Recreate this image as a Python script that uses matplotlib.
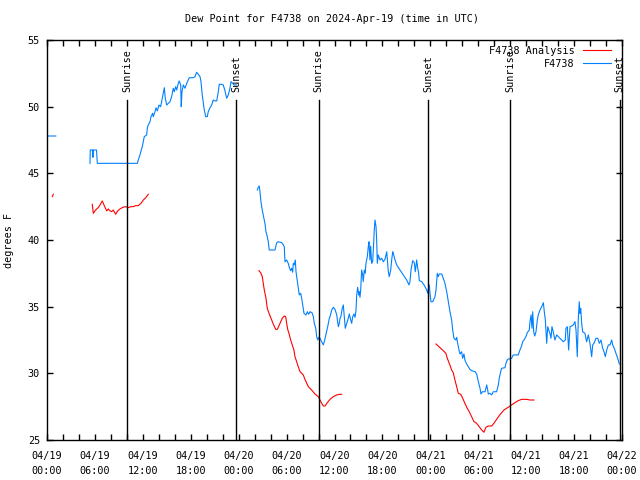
import matplotlib
matplotlib.use("Agg")
import matplotlib.pyplot as plt
import numpy as np

# hours after 2024-04-19 00:00 UTC
obs_hours_1 = [0.1, 1.1]
obs_vals_1 = [47.8, 47.8]

obs_hours_2 = [
    5.38, 5.42, 5.70, 5.75, 5.80, 6.20, 6.30, 11.31, 11.43, 11.64, 11.77, 11.93,
    12.06, 12.18, 12.48, 12.56, 12.68, 12.90, 13.02, 13.23, 13.31, 13.52, 13.65,
    13.81, 14.02, 14.23, 14.44, 14.56, 14.69, 14.81, 14.99, 15.19, 15.40, 15.61,
    15.81, 15.94, 16.11, 16.24, 16.44, 16.56, 16.74, 16.81, 16.90, 17.07, 17.28,
    17.49, 17.69, 17.82, 18.32, 18.53, 18.74, 18.94, 19.16, 19.28, 19.44, 19.66,
    19.87, 20.07, 20.19, 20.41, 20.62, 20.82, 21.03, 21.25, 21.45, 21.57, 21.87,
    22.07, 22.29, 22.50, 22.70, 22.91, 23.04, 23.25, 23.41, 23.75,
]
obs_vals_2 = [
    45.75, 46.75, 46.75, 46.20, 46.75, 46.75, 45.75, 45.75, 46.00, 46.38, 46.68, 47.00,
    47.37, 47.75, 47.88, 48.38, 48.63, 48.87, 49.25, 49.50, 49.25, 49.62, 49.92,
    49.68, 50.12, 50.00, 50.63, 51.00, 51.42, 50.63, 50.12, 50.25, 50.37, 50.75,
    51.38, 51.12, 51.50, 51.25, 51.75, 51.93, 51.63, 50.00, 51.12, 51.63, 51.38,
    51.75, 52.00, 52.17, 52.17, 52.25, 52.58, 52.43, 52.25, 51.88, 50.88, 49.88,
    49.25, 49.25, 49.62, 49.92, 50.12, 50.50, 50.43, 50.43, 51.12, 51.68, 51.68,
    51.63, 51.18, 50.63, 50.88, 51.38, 51.88, 51.75, 51.63, 51.63,
]

obs_hours_3 = [
    26.33, 26.45, 26.58, 26.67, 26.79, 26.95, 27.08, 27.29, 27.42, 27.58, 27.71, 27.83,
    28.55, 28.76, 28.96, 29.39, 29.59, 29.71, 29.80, 30.01, 30.21, 30.34, 30.51, 30.64,
    30.76, 30.84, 30.96, 31.09, 31.18, 31.39, 31.59, 31.77, 31.89, 32.02, 32.18, 32.43,
    32.60, 32.77, 32.93, 33.18, 33.35, 33.47, 33.65, 33.77, 33.90, 34.02, 34.18, 34.40,
    34.60, 34.72, 34.94, 35.15, 35.35, 35.44, 35.65, 35.85, 36.06, 36.28, 36.40, 36.48,
    36.60, 36.69, 36.82, 36.94, 37.10, 37.23, 37.35, 37.53, 37.73, 37.85, 38.03, 38.15,
    38.28, 38.44, 38.57, 38.69, 38.78, 38.90, 39.03, 39.10, 39.19, 39.28, 39.40, 39.53,
    39.60, 39.73, 39.85, 39.94, 40.11, 40.23, 40.32, 40.44, 40.53, 40.65, 40.78, 40.86,
    40.98, 41.07, 41.20, 41.28, 41.36, 41.48, 41.70, 41.91, 42.11, 42.32, 42.45, 42.54,
    42.66, 42.74, 42.86, 43.04, 43.16, 43.29, 43.36, 43.58, 43.79, 44.20, 44.62, 45.04,
    45.33, 45.45, 45.58, 45.79, 45.99, 46.12, 46.29, 46.42, 46.54, 46.62, 46.92, 47.21,
    47.55, 47.67, 47.80, 47.87, 47.96, 48.08, 48.30, 48.58, 48.71, 48.87, 48.99, 49.12,
    49.42, 49.62, 49.83, 50.05, 50.25, 50.46, 50.67, 50.80, 50.96, 51.18, 51.30, 51.42,
    51.59, 51.71, 51.92, 52.05, 52.21, 52.33, 52.55, 52.75, 52.97, 53.17, 53.59, 53.80,
    54.01, 54.22, 54.34, 54.51, 54.85, 55.06, 55.18, 55.26, 55.47, 55.68, 55.88, 56.30,
    56.51, 56.63, 56.81, 56.93, 57.34, 57.47, 57.63, 57.76, 57.97, 58.18, 58.38, 59.01,
    59.22, 59.43, 59.56, 59.72, 59.97, 60.14, 60.39, 60.48, 60.61, 60.73, 60.82, 60.94,
    61.07, 61.23, 61.40, 61.52, 61.73, 61.95, 62.15, 62.27, 62.40, 62.57, 62.70, 62.82,
    62.98, 63.11, 63.23, 63.39, 63.60, 63.82, 64.23, 64.65, 64.90, 64.98, 65.15, 65.32,
    65.49, 65.70, 65.90, 66.11, 66.24, 66.40, 66.53, 66.65, 66.74, 66.83, 66.95, 67.07,
    67.36, 67.57, 67.78, 67.99, 68.20, 68.33, 68.49, 68.74, 68.96, 69.16, 69.37, 69.58,
    69.75, 69.91, 70.09, 70.29, 70.50, 70.71, 70.83, 71.03, 71.24, 71.46, 71.66,
]
obs_vals_3 = [
    43.75, 43.95, 44.05, 43.62, 42.87, 42.25, 41.88, 41.25, 40.62, 40.25, 39.87, 39.25,
    39.25, 39.80, 39.87, 39.80, 39.63, 39.50, 38.37, 38.50, 38.25, 37.95, 37.70, 37.88,
    37.58, 38.25, 38.13, 38.50, 37.62, 36.75, 35.88, 36.00, 35.63, 35.13, 34.50, 34.38,
    34.62, 34.43, 34.62, 34.55, 34.25, 33.75, 33.38, 32.75, 32.50, 32.70, 32.63, 32.37,
    32.13, 32.37, 32.95, 33.50, 34.13, 34.25, 34.75, 34.95, 34.80, 34.38, 33.88, 33.50,
    33.75, 34.13, 34.30, 34.80, 35.13, 34.25, 33.38, 33.75, 34.13, 34.45, 34.00, 33.75,
    34.25, 34.45, 34.20, 34.70, 35.88, 36.45, 35.88, 36.12, 35.70, 36.25, 37.75, 37.38,
    36.88, 37.75, 37.50, 38.25, 38.75, 39.50, 39.87, 38.50, 39.55, 38.25, 38.37, 39.25,
    40.75, 41.50, 41.00, 40.00, 38.25, 38.88, 38.50, 38.63, 38.37, 38.55, 38.88, 39.12,
    38.25, 37.62, 37.25, 37.75, 38.50, 39.12, 39.00, 38.50, 38.13, 37.75, 37.38, 37.00,
    36.63, 36.88, 37.75, 38.45, 38.30, 37.62, 38.50, 37.88, 37.50, 36.95, 36.88, 36.63,
    36.25, 36.00, 36.50, 36.63, 36.00, 35.37, 35.37, 35.75, 36.25, 37.50, 37.25, 37.45,
    37.45, 37.13, 36.75, 36.12, 35.37, 34.62, 34.00, 33.25, 32.63, 32.50, 32.70, 32.25,
    31.75, 31.45, 31.62, 31.13, 31.45, 31.00, 30.70, 30.50, 30.30, 30.20, 30.13, 29.95,
    29.37, 28.88, 28.45, 28.62, 28.62, 29.13, 28.75, 28.45, 28.50, 28.38, 28.62, 28.62,
    29.13, 29.63, 30.13, 30.38, 30.42, 30.75, 31.00, 31.08, 31.08, 31.13, 31.38, 31.38,
    31.75, 32.05, 32.37, 32.50, 32.75, 33.05, 33.25, 33.88, 34.38, 33.38, 34.62, 33.12,
    32.80, 33.12, 34.00, 34.38, 34.75, 35.00, 35.30, 34.62, 34.00, 32.25, 33.50, 33.25,
    33.00, 32.63, 33.50, 33.12, 32.50, 32.88, 32.63, 32.37, 32.50, 33.38, 33.50, 31.75,
    33.50, 33.55, 33.63, 33.88, 33.25, 31.25, 34.13, 35.37, 34.50, 34.88, 33.75, 33.12,
    33.00, 32.37, 32.88, 32.25, 31.25, 32.13, 32.25, 32.63, 32.63, 32.25, 32.50, 31.88,
    31.62, 31.25, 31.75, 32.13, 32.13, 32.50, 32.13, 31.88, 31.50, 31.13, 30.70,
]

ana_hours_1 = [0.66, 0.79]
ana_vals_1 = [43.25, 43.43]

ana_hours_2 = [
    5.67, 5.80, 6.01, 6.22, 6.42, 6.64, 6.92, 7.17, 7.48, 7.68, 7.89, 8.10, 8.30,
    8.60, 8.85, 9.14, 9.43, 9.77, 10.18, 10.52, 10.81, 11.11, 11.43, 11.77, 12.06,
    12.36, 12.68,
]
ana_vals_2 = [
    42.68, 42.00, 42.18, 42.33, 42.43, 42.63, 42.93, 42.58, 42.18, 42.33, 42.18, 42.13, 42.25,
    41.93, 42.18, 42.33, 42.43, 42.50, 42.43, 42.50, 42.50, 42.58, 42.58, 42.75, 43.00,
    43.17, 43.43,
]

ana_hours_3 = [
    26.54, 26.75, 26.96, 27.08, 27.21, 27.42, 27.58, 27.80, 28.05, 28.33, 28.64, 28.84,
    29.18, 29.46, 29.71, 29.89, 30.01, 30.14, 30.30, 30.51, 30.71, 30.92, 31.05, 31.26,
    31.46, 31.68, 32.09, 32.30, 32.72, 33.14, 33.56, 33.97, 34.18, 34.40, 34.60, 34.81,
    35.10, 35.44, 35.85, 36.28, 36.69, 36.90,
]
ana_vals_3 = [
    37.70, 37.55, 37.25, 36.75, 36.25, 35.63, 34.88, 34.50, 34.13, 33.70, 33.30, 33.30,
    33.75, 34.13, 34.30, 34.25, 33.75, 33.30, 33.00, 32.50, 32.13, 31.75, 31.25, 30.88,
    30.50, 30.13, 29.88, 29.55, 29.00, 28.75, 28.45, 28.25, 28.00, 27.75, 27.55, 27.55,
    27.80, 28.05, 28.25, 28.38, 28.43, 28.43,
]

ana_hours_4 = [
    48.71, 48.99, 49.29, 49.62, 49.95, 50.12, 50.37, 50.67, 50.87, 51.08, 51.30, 51.50,
    51.80, 52.05, 52.33, 52.62, 52.87, 53.17, 53.46, 53.80, 54.12, 54.43, 54.71, 54.96,
    55.25, 55.68, 55.96, 56.30, 56.63, 56.93, 57.22, 57.55, 57.88, 58.18, 58.59, 59.01,
    59.43, 59.72, 60.06, 60.47, 60.97,
]
ana_vals_4 = [
    32.20, 32.05, 31.88, 31.70, 31.50, 31.13, 30.75, 30.25, 30.05, 29.50, 29.00, 28.50,
    28.43, 28.13, 27.75, 27.38, 27.13, 26.75, 26.38, 26.25, 26.00, 25.75, 25.58, 25.95,
    26.05, 26.05, 26.25, 26.55, 26.83, 27.05, 27.25, 27.38, 27.50, 27.63, 27.80, 27.95,
    28.05, 28.05, 28.05, 28.00, 28.00,
]

sun_hours = [10.03, 23.67, 34.03, 47.70, 57.98, 71.72]
sun_labels = ["Sunrise", "Sunset", "Sunrise", "Sunset", "Sunrise", "Sunset"]

tick_hours = list(range(0, 73, 6))
tick_labels = [
    "04/19\n00:00", "04/19\n06:00", "04/19\n12:00", "04/19\n18:00",
    "04/20\n00:00", "04/20\n06:00", "04/20\n12:00", "04/20\n18:00",
    "04/21\n00:00", "04/21\n06:00", "04/21\n12:00", "04/21\n18:00",
    "04/22\n00:00",
]


def join(parts):
    xs, ys = [], []
    for x, y in parts:
        xs += list(x) + [np.nan]
        ys += list(y) + [np.nan]
    return xs, ys


def main() -> None:
    plt.rcParams["font.family"] = "DejaVu Sans Mono"
    plt.rcParams["font.size"] = 7.3

    fig = plt.figure(figsize=(6.4, 4.8), dpi=100)
    ax = fig.add_axes([47 / 640, 40 / 480, 575 / 640, 400 / 480])

    ox, oy = join([(obs_hours_1, obs_vals_1), (obs_hours_2, obs_vals_2),
                   (obs_hours_3, obs_vals_3)])
    axx, axy = join([(ana_hours_1, ana_vals_1), (ana_hours_2, ana_vals_2),
                     (ana_hours_3, ana_vals_3), (ana_hours_4, ana_vals_4)])

    red, = ax.plot(axx, axy, color="#ff0000", linewidth=0.8, label="F4738 Analysis")
    blue, = ax.plot(ox, oy, color="#0080ff", linewidth=0.8, label="F4738")

    for h, lab in zip(sun_hours, sun_labels):
        ax.axvline(h, ymin=0, ymax=0.85, color="black", linewidth=1.0)
        ax.text(h, 25 + 0.87 * 30, lab, rotation=90, ha="center", va="bottom")

    ax.set_xlim(0, 72)
    ax.set_ylim(25, 55)
    ax.set_xticks(tick_hours)
    ax.set_xticklabels(tick_labels, linespacing=1.65)
    ax.set_xticks(np.arange(0, 73, 2), minor=True)
    ax.set_yticks(range(25, 56, 5))
    ax.tick_params(which="both", direction="in", top=True, right=True,
                   length=4, width=1)
    ax.tick_params(axis="x", pad=8)
    ax.tick_params(axis="y", pad=5)
    for s in ax.spines.values():
        s.set_linewidth(1)

    ax.set_ylabel("degrees F")
    ax.yaxis.set_label_coords(-33 / 575, 0.5)
    fig.text(332 / 640, 1 - 19 / 480,
             "Dew Point for F4738 on 2024-Apr-19 (time in UTC)",
             ha="center", va="center")

    ax.legend(handles=[red, blue], loc="upper right",
              bbox_to_anchor=(611 / 640, 1 - 46 / 480),
              bbox_transform=fig.transFigure, frameon=False,
              markerfirst=False, borderpad=0, borderaxespad=0,
              handlelength=2.8, handletextpad=0.8, labelspacing=0.25)

    fig.savefig("out.png", dpi=100)


if __name__ == "__main__":
    main()
